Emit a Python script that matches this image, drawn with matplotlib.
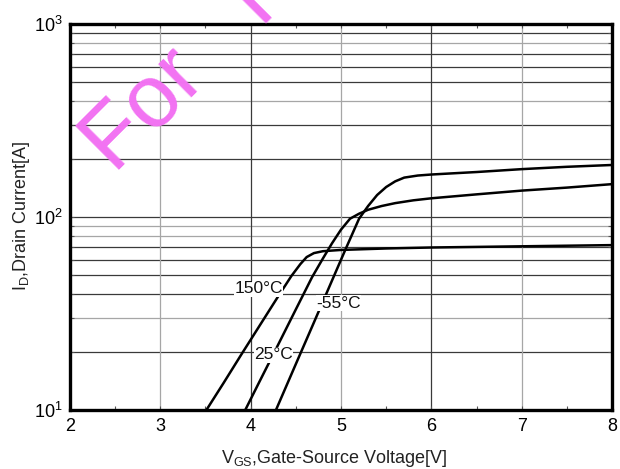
import matplotlib
matplotlib.use("Agg")
import matplotlib.pyplot as plt
from matplotlib.ticker import FixedLocator, MultipleLocator, NullFormatter
import numpy as np

plt.rcParams['font.family'] = ['Liberation Sans', 'DejaVu Sans']
plt.rcParams['mathtext.fontset'] = 'custom'
plt.rcParams['mathtext.rm'] = 'Liberation Sans'
plt.rcParams['mathtext.it'] = 'Liberation Sans:italic'
plt.rcParams['mathtext.bf'] = 'Liberation Sans:bold'

# transfer characteristics, VGS [V] vs ID [A]
vgs_m55 = [4.28, 4.50, 4.70, 4.90, 5.05, 5.20, 5.30, 5.40, 5.50, 5.60,
           5.70, 5.85, 6.00, 6.20, 6.50, 7.00, 7.50, 8.00]
id_m55 = [10.0, 17.3, 28.4, 46.8, 68.0, 98.0, 114, 130, 143, 153,
          160, 164, 166, 168, 171, 177, 182, 186]

vgs_25 = [3.94, 4.10, 4.30, 4.50, 4.68, 4.80, 4.90, 5.00, 5.10, 5.20,
          5.30, 5.45, 5.60, 5.80, 6.00, 6.50, 7.00, 7.50, 8.00]
id_25 = [10.0, 14.1, 21.6, 33.2, 48.8, 61.0, 73.0, 86.0, 98.0, 104,
         109, 114, 118, 122, 125, 131, 137, 142, 148]

vgs_150 = [3.51, 3.70, 3.90, 4.10, 4.30, 4.45, 4.55, 4.62, 4.70, 4.80,
           5.00, 5.50, 6.00, 7.00, 8.00]
id_150 = [10.0, 13.8, 19.5, 27.4, 38.5, 49.4, 57.0, 62.0, 65.0, 66.5,
          67.5, 68.7, 69.5, 70.5, 71.5]

curve_labels = ['-55°C', '25°C', '150°C']
label_pos = [(4.97, 35.8), (4.25, 19.3), (4.09, 42.4)]

x_ticks = [2, 3, 4, 5, 6, 7, 8]
y_ticks = [10, 100, 1000]
y_ticklabels = [r'$\mathregular{10^{1}}$', r'$\mathregular{10^{2}}$', r'$\mathregular{10^{3}}$']

fig = plt.figure(figsize=(6.2, 4.69), dpi=100)
ax = fig.add_axes([70 / 620, 1 - 410 / 469, 542 / 620, 386 / 469])
ax.set_yscale('log')
ax.set_xlim(2, 8)
ax.set_ylim(10, 1000)

# grid: mixed dark and light rules like the printed sheet
dark = '#3a3a3a'
light = '#a6a6a6'
light_rows = [30, 80, 90, 400, 800]
for dec in [10, 100]:
    for m in range(1, 10):
        v = dec * m
        if v == 10:
            continue
        ax.axhline(v, color=light if v in light_rows else dark, lw=0.9, zorder=1)
for xv in x_ticks[1:-1]:
    ax.axvline(xv, color=dark if xv in (4, 6) else light, lw=0.9, zorder=1)

for vx, iy in [(vgs_m55, id_m55), (vgs_25, id_25), (vgs_150, id_150)]:
    ax.plot(vx, iy, color='black', lw=1.8, zorder=3, solid_capstyle='butt')

for txt, (xv, yv) in zip(curve_labels, label_pos):
    ax.text(xv, yv, txt, fontsize=12.5, ha='center', va='center', color='#111111',
            zorder=4, bbox=dict(facecolor='white', edgecolor='none', pad=0.3))

ax.set_xticks(x_ticks)
ax.set_xticklabels([str(v) for v in x_ticks])
ax.xaxis.set_minor_locator(MultipleLocator(0.5))
ax.yaxis.set_major_locator(FixedLocator(y_ticks))
ax.set_yticklabels(y_ticklabels)
ax.yaxis.set_minor_formatter(NullFormatter())
ax.tick_params(which='both', direction='in', top=True, right=True,
               length=3, width=0.8, color='#555555', labelsize=13)
ax.tick_params(axis='x', pad=6)
ax.tick_params(axis='y', pad=5)

for sp in ax.spines.values():
    sp.set_linewidth(2.4)
    sp.set_color('black')
    sp.set_zorder(5)

fig.text(334 / 620, 1 - 458 / 469, r'V$_\mathregular{GS}$,Gate-Source Voltage[V]',
         fontsize=13, ha='center', va='center', color='#222222')
fig.text(21 / 620, 1 - 216 / 469, r'I$_\mathregular{D}$,Drain Current[A]',
         fontsize=13, ha='center', va='center', rotation=90, color='#222222')

# watermark, runs off the top edge
fig.text(115 / 620, 1 - 175 / 469, 'For   Reference Only', fontsize=64,
         color='#f272f2', rotation=45, rotation_mode='anchor',
         ha='left', va='baseline', zorder=10)

fig.savefig('out.png', dpi=100)
